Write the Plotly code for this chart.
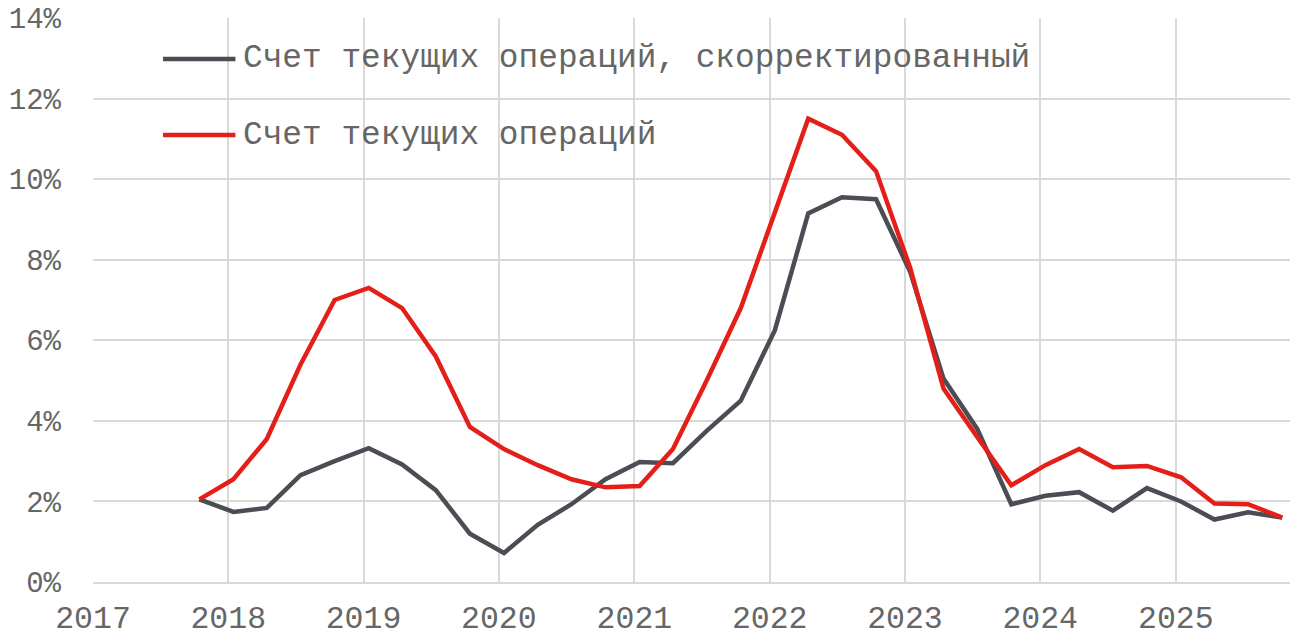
import plotly.graph_objects as go

dates = ["2017-10-15",
         "2018-01-15", "2018-04-15", "2018-07-15", "2018-10-15",
         "2019-01-15", "2019-04-15", "2019-07-15", "2019-10-15",
         "2020-01-15", "2020-04-15", "2020-07-15", "2020-10-15",
         "2021-01-15", "2021-04-15", "2021-07-15", "2021-10-15",
         "2022-01-15", "2022-04-15", "2022-07-15", "2022-10-15",
         "2023-01-15", "2023-04-15", "2023-07-15", "2023-10-15",
         "2024-01-15", "2024-04-15", "2024-07-15", "2024-10-15",
         "2025-01-15", "2025-04-15", "2025-07-15", "2025-10-15"]

adjusted = [2.05, 1.74, 1.84, 2.65, 3.0, 3.32, 2.92, 2.28, 1.2, 0.72, 1.42, 1.93,
            2.55, 2.98, 2.95, 3.75, 4.5, 6.25, 9.15, 9.55, 9.5, 7.7, 5.05, 3.8,
            1.93, 2.14, 2.23, 1.77, 2.33, 2.0, 1.55, 1.73, 1.6]

current = [2.05, 2.55, 3.55, 5.4, 7.0, 7.3, 6.8, 5.6, 3.85, 3.3, 2.9, 2.55,
           2.35, 2.38, 3.3, 5.0, 6.8, 9.2, 11.5, 11.1, 10.2, 7.8, 4.8, 3.6,
           2.4, 2.9, 3.3, 2.85, 2.88, 2.6, 1.95, 1.93, 1.6]

series_names = ["Счет текущих операций, скорректированный", "Счет текущих операций"]
series_colors = ["#4a4d54", "#e41f1a"]

year_ticks = ["2017-01-01", "2018-01-01", "2019-01-01", "2020-01-01", "2021-01-01",
              "2022-01-01", "2023-01-01", "2024-01-01", "2025-01-01"]
year_labels = ["2017", "2018", "2019", "2020", "2021", "2022", "2023", "2024", "2025"]
y_ticks = [0, 2, 4, 6, 8, 10, 12, 14]
y_labels = ["0%", "2%", "4%", "6%", "8%", "10%", "12%", "14%"]

FONT = "Liberation Mono, Courier New, monospace"
GRID = "#d9d9d9"
TXT = "#666666"

fig = go.Figure()
fig.add_trace(go.Scatter(x=dates, y=adjusted, mode="lines", name=series_names[0],
                         line=dict(color=series_colors[0], width=4.5), showlegend=False))
fig.add_trace(go.Scatter(x=dates, y=current, mode="lines", name=series_names[1],
                         line=dict(color=series_colors[1], width=4.5), showlegend=False))

# manual legend
legend_y = [0.9275, 0.7925]
for name, col, ly in zip(series_names, series_colors, legend_y):
    fig.add_shape(type="line", xref="paper", yref="paper", x0=0.0585, x1=0.119, y0=ly, y1=ly,
                  line=dict(color=col, width=4.5))
    fig.add_annotation(xref="paper", yref="paper", x=0.1235, y=ly, text=name, showarrow=False,
                       xanchor="left", yanchor="middle",
                       font=dict(family=FONT, size=32.8, color=TXT))

# the page body has an 8px margin, so the figure is 8px smaller and margins shifted
fig.update_layout(
    width=1300, height=633,
    margin=dict(l=85, r=18, t=10, b=59),
    paper_bgcolor="white", plot_bgcolor="white",
    font=dict(family=FONT, size=31, color=TXT),
    xaxis=dict(type="date", range=["2017-01-01", "2025-11-05"],
               tickvals=year_ticks, ticktext=year_labels,
               showgrid=True, gridcolor=GRID, gridwidth=2,
               showline=True, linecolor=GRID, linewidth=2,
               zeroline=False, ticks="", ticklabelstandoff=6, automargin=False,
               ticklabeloverflow="allow",
               tickfont=dict(family=FONT, size=31.5, color=TXT)),
    yaxis=dict(range=[0, 14], tickvals=y_ticks, ticktext=y_labels,
               showgrid=True, gridcolor=GRID, gridwidth=2,
               zeroline=False, showline=False, ticks="", ticklabelstandoff=31, automargin=False,
               ticklabeloverflow="allow",
               tickfont=dict(family=FONT, size=29, color=TXT)),
)

fig.write_html("out.html")
